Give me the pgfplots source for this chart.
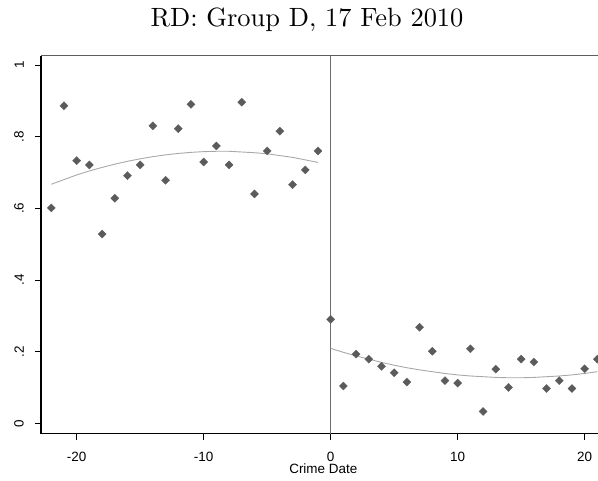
\documentclass[border=0pt]{standalone}
\usepackage{fontspec}
\usepackage{pgfplots}
\usepackage{pgfplotstable}
\pgfplotsset{compat=1.18}
\newfontfamily\arialfont{Liberation Sans}
\newfontfamily\titlefont{lmroman10-regular}[Extension=.otf]

\definecolor{markgray}{HTML}{5B5B5B}
\definecolor{fitgray}{HTML}{A8A8A8}
\definecolor{cutgray}{HTML}{6E6E6E}
\definecolor{framegray}{HTML}{5E5E5E}

% binned means before the cutoff
\pgfplotstableread{
x y
-22 0.601
-21 0.886
-20 0.733
-19 0.721
-18 0.528
-17 0.628
-16 0.691
-15 0.721
-14 0.830
-13 0.678
-12 0.822
-11 0.890
-10 0.729
-9 0.774
-8 0.721
-7 0.896
-6 0.640
-5 0.760
-4 0.815
-3 0.666
-2 0.707
-1 0.760
}\leftbins

% binned means after the cutoff
\pgfplotstableread{
x y
0 0.290
1 0.104
2 0.193
3 0.179
4 0.159
5 0.141
6 0.115
7 0.268
8 0.201
9 0.119
10 0.112
11 0.208
12 0.033
13 0.151
14 0.100
15 0.179
16 0.171
17 0.097
18 0.119
19 0.097
20 0.152
21 0.179
}\rightbins

% quadratic fit, left side
\pgfplotstableread{
x y
-22 0.667
-21 0.680
-20 0.693
-19 0.704
-18 0.714
-17 0.723
-16 0.731
-15 0.738
-14 0.744
-13 0.749
-12 0.753
-11 0.756
-10 0.758
-9 0.759
-8 0.759
-7 0.757
-6 0.755
-5 0.752
-4 0.747
-3 0.742
-2 0.735
-1 0.728
}\leftfit

% quadratic fit, right side
\pgfplotstableread{
x y
0 0.209
1 0.198
2 0.188
3 0.179
4 0.170
5 0.162
6 0.155
7 0.149
8 0.144
9 0.139
10 0.135
11 0.132
12 0.130
13 0.128
14 0.127
15 0.127
16 0.128
17 0.130
18 0.132
19 0.135
20 0.139
21 0.144
}\rightfit

\begin{document}
\begin{tikzpicture}
\begin{axis}[
  name=ax,
  scale only axis,
  width=557bp, height=377.9bp,
  xmin=-22.81, xmax=21.05,
  ymin=-0.0285, ymax=1.026,
  axis x line*=bottom, axis y line*=left,
  axis line style={-, black, line width=1.3bp},
  xtick={-20,-10,0,10,20},
  xticklabels={-20,-10,0,10,20},
  ytick={0,0.2,0.4,0.6,0.8,1},
  yticklabels={0,.2,.4,.6,.8,1},
  tick align=outside,
  major tick length=6bp,
  tick style={black, line width=0.8bp},
  ticklabel style={font=\arialfont\fontsize{13.5}{16}\selectfont},
  xticklabel style={anchor=north, inner sep=0pt, yshift=-12bp},
  yticklabel style={xshift=-11bp, rotate=90, anchor=south, inner sep=0pt},
  xlabel={Crime Date},
  xlabel style={at={(0.5068,0)}, anchor=base, yshift=-39.5bp,
    inner sep=0pt, font=\arialfont\fontsize{13.5}{16}\selectfont},
  title={RD: Group D, 17 Feb 2010},
  title style={at={(0.4776,1)}, anchor=base, yshift=23.5bp,
    inner sep=0pt, font=\titlefont\fontsize{26.5}{30}\selectfont},
]
\draw[cutgray, line width=1.3bp] (axis cs:0,-0.0285) -- (axis cs:0,1.026);
\addplot[fitgray, line width=0.9bp, no marks] table[x=x, y=y] {\leftfit};
\addplot[fitgray, line width=0.9bp, no marks] table[x=x, y=y] {\rightfit};
\addplot[only marks, mark=square*, mark size=2.9bp,
  mark options={rotate=45, fill=markgray, draw=markgray, line width=0.2bp}]
  table[x=x, y=y] {\leftbins};
\addplot[only marks, mark=square*, mark size=2.9bp,
  mark options={rotate=45, fill=markgray, draw=markgray, line width=0.2bp}]
  table[x=x, y=y] {\rightbins};
\end{axis}
\draw[framegray, line width=1.6bp] (ax.north west) -- (ax.north east);
\pgfresetboundingbox
\path[use as bounding box] ([xshift=-41bp, yshift=-47.5bp]ax.south west)
  rectangle ([yshift=55.6bp]ax.north east);
\end{tikzpicture}
\end{document}
